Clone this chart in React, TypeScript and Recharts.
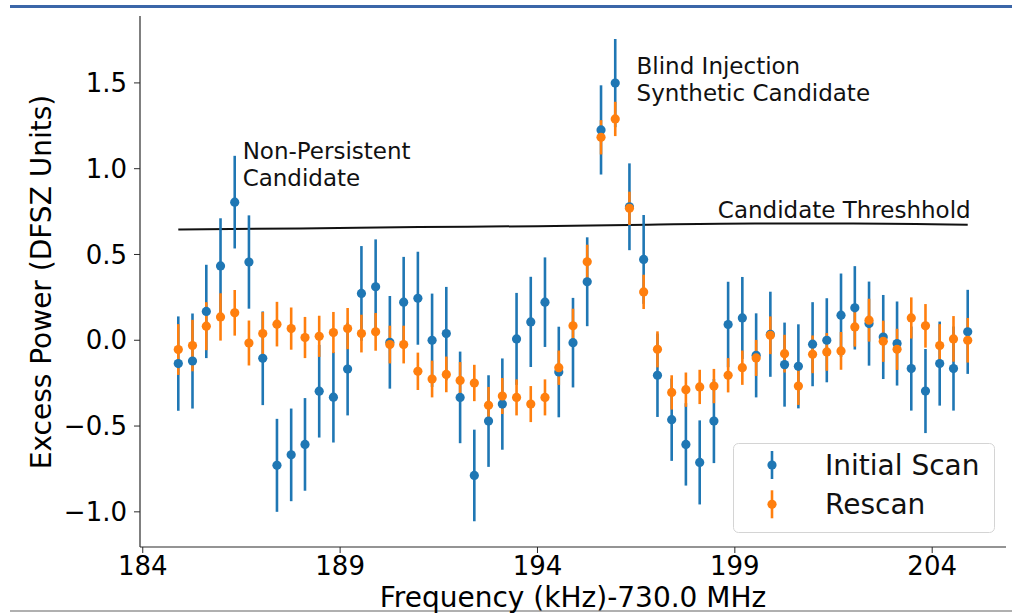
import React from 'react';
import { ComposedChart, Scatter, ErrorBar, Line, XAxis, YAxis, ReferenceDot } from 'recharts';

const FONT = '"DejaVu Sans", "Liberation Sans", sans-serif';
const BLUE = '#1f77b4';
const ORANGE = '#ff7f0e';

const frequencies = [
  184.90, 185.26, 185.61, 185.97, 186.33, 186.69, 187.04, 187.40, 187.76, 188.11,
  188.47, 188.83, 189.19, 189.54, 189.90, 190.26, 190.61, 190.97, 191.33, 191.69,
  192.04, 192.40, 192.76, 193.11, 193.47, 193.83, 194.19, 194.54, 194.90, 195.26,
  195.61, 195.97, 196.33, 196.69, 197.04, 197.40, 197.76, 198.11, 198.47, 198.83,
  199.19, 199.54, 199.90, 200.26, 200.61, 200.97, 201.33, 201.69, 202.04, 202.40,
  202.76, 203.11, 203.47, 203.83, 204.19, 204.54, 204.90,
];

const initialScan = [
  -0.136, -0.121, 0.168, 0.433, 0.805, 0.456, -0.105, -0.729, -0.668, -0.607,
  -0.297, -0.332, -0.168, 0.273, 0.312, -0.012, 0.222, 0.245, 0.0, 0.039,
  -0.333, -0.788, -0.471, -0.372, 0.008, 0.107, 0.222, -0.185, -0.014, 0.341,
  1.226, 1.499, 0.778, 0.471, -0.204, -0.463, -0.607, -0.712, -0.471, 0.092,
  0.130, -0.088, 0.035, -0.142, -0.152, -0.023, 0.0, 0.146, 0.189, 0.097,
  0.019, -0.019, -0.165, -0.296, -0.136, -0.165, 0.049,
];

const initialScanErr = [
  0.275, 0.277, 0.272, 0.278, 0.270, 0.272, 0.273, 0.271, 0.270, 0.270,
  0.270, 0.264, 0.270, 0.276, 0.276, 0.270, 0.264, 0.271, 0.272, 0.272,
  0.267, 0.267, 0.267, 0.266, 0.268, 0.263, 0.261, 0.264, 0.261, 0.259,
  0.260, 0.257, 0.253, 0.259, 0.243, 0.240, 0.240, 0.245, 0.245, 0.249,
  0.239, 0.245, 0.248, 0.245, 0.245, 0.245, 0.245, 0.243, 0.243, 0.245,
  0.245, 0.245, 0.245, 0.245, 0.245, 0.245, 0.245,
];

const rescan = [
  -0.054, -0.031, 0.082, 0.136, 0.160, -0.016, 0.039, 0.094, 0.068, 0.016,
  0.023, 0.045, 0.068, 0.039, 0.049, -0.025, -0.025, -0.181, -0.226, -0.199,
  -0.234, -0.249, -0.379, -0.325, -0.333, -0.372, -0.333, -0.160, 0.084, 0.457,
  1.183, 1.290, 0.769, 0.282, -0.053, -0.304, -0.288, -0.272, -0.267, -0.204,
  -0.160, -0.103, 0.029, -0.078, -0.267, -0.082, -0.068, -0.062, 0.078, 0.117,
  -0.006, -0.053, 0.130, 0.084, -0.031, 0.008, 0.0,
];

const rescanErr = [
  0.148, 0.150, 0.140, 0.138, 0.133, 0.131, 0.125, 0.130, 0.123, 0.120,
  0.120, 0.120, 0.120, 0.110, 0.110, 0.110, 0.110, 0.109, 0.107, 0.104,
  0.107, 0.106, 0.107, 0.105, 0.105, 0.105, 0.105, 0.100, 0.100, 0.100,
  0.100, 0.100, 0.097, 0.100, 0.105, 0.100, 0.100, 0.100, 0.100, 0.100,
  0.100, 0.105, 0.110, 0.110, 0.110, 0.110, 0.110, 0.110, 0.115, 0.125,
  0.120, 0.120, 0.120, 0.127, 0.125, 0.133, 0.130,
];

const thresholdFreqs = [184.90, 188.0, 191.0, 194.0, 196.8, 199.5, 202.0, 204.90];
const thresholdValues = [0.646, 0.652, 0.660, 0.665, 0.674, 0.680, 0.680, 0.673];

const xTicks = [184, 189, 194, 199, 204];
const yTicks = [-1.0, -0.5, 0.0, 0.5, 1.0, 1.5];
const xDomain = [183.93, 205.87];
const yDomain = [-1.205, 1.89];

const annotations = [
  { x: 186.53, y: 1.055, text: 'Non-Persistent', anchor: 'start' },
  { x: 186.53, y: 0.899, text: 'Candidate', anchor: 'start' },
  { x: 196.51, y: 1.552, text: 'Blind Injection', anchor: 'start' },
  { x: 196.51, y: 1.395, text: 'Synthetic Candidate', anchor: 'start' },
  { x: 204.975, y: 0.711, text: 'Candidate Threshhold', anchor: 'end' },
];

const legendItems = [
  { name: 'Initial Scan', color: BLUE },
  { name: 'Rescan', color: ORANGE },
];

const initialData = frequencies.map((x, i) => ({ x, y: initialScan[i], err: initialScanErr[i] }));
const rescanData = frequencies.map((x, i) => ({ x, y: rescan[i], err: rescanErr[i] }));
const thresholdData = thresholdFreqs.map((x, i) => ({ x, y: thresholdValues[i] }));

const fmtY = (v: number) => (v < 0 ? '\u2212' + Math.abs(v).toFixed(1) : v.toFixed(1));

const dotShape = (color: string) => (p: any) =>
  p.cx == null || p.cy == null ? <g /> : <circle cx={p.cx} cy={p.cy} r={4.6} fill={color} />;

const FRAME = '#2a2a2a';

export default function App() {
  return (
    <div style={{ position: 'absolute', left: 0, top: 0, width: 1012, height: 613, background: '#fff', overflow: 'hidden' }}>
      <div style={{ position: 'absolute', left: 10, top: 5, width: 1002, height: 2.5, background: '#3b66a8' }} />
      <div style={{ position: 'absolute', left: 10, top: 610, width: 1002, height: 1.5, background: '#b0b0b0' }} />
      <div style={{ position: 'absolute', left: 0, top: 0 }}>
        <ComposedChart width={1012} height={613} margin={{ top: 16, right: 6, bottom: 0, left: 0 }}>
          <XAxis
            dataKey="x"
            type="number"
            domain={xDomain}
            allowDataOverflow
            ticks={xTicks}
            tickSize={6}
            tickMargin={4}
            height={66}
            axisLine={{ stroke: FRAME, strokeWidth: 1.2 }}
            tickLine={{ stroke: FRAME, strokeWidth: 1 }}
            tick={{ fontSize: 26, fill: '#000', fontFamily: FONT }}
            label={() => (
              <text x={573} y={607} textAnchor="middle" fontSize={28} fontFamily={FONT} fill="#000">
                Frequency (kHz)-730.0 MHz
              </text>
            )}
          />
          <XAxis
            xAxisId="top"
            orientation="top"
            type="number"
            domain={xDomain}
            allowDataOverflow
            height={0}
            tick={false}
            tickLine={false}
            axisLine={{ stroke: FRAME, strokeWidth: 1.2 }}
          />
          <YAxis
            dataKey="y"
            type="number"
            domain={yDomain}
            allowDataOverflow
            ticks={yTicks}
            tickFormatter={fmtY}
            width={140}
            tickSize={6}
            tickMargin={7}
            axisLine={{ stroke: FRAME, strokeWidth: 1.2 }}
            tickLine={{ stroke: FRAME, strokeWidth: 1 }}
            tick={{ fontSize: 26, fill: '#000', fontFamily: FONT }}
            label={() => (
              <text
                x={0}
                y={0}
                transform="translate(51,282) rotate(-90)"
                textAnchor="middle"
                fontSize={28}
                fontFamily={FONT}
                fill="#000"
              >
                Excess Power (DFSZ Units)
              </text>
            )}
          />
          <YAxis
            yAxisId="right"
            orientation="right"
            type="number"
            domain={yDomain}
            allowDataOverflow
            width={0}
            tick={false}
            tickLine={false}
            axisLine={{ stroke: FRAME, strokeWidth: 1.2 }}
          />
          <Line
            data={thresholdData}
            dataKey="y"
            type="monotone"
            stroke="#111"
            strokeWidth={2}
            dot={false}
            activeDot={false}
            isAnimationActive={false}
          />
          <Scatter data={initialData} dataKey="y" fill={BLUE} shape={dotShape(BLUE)} isAnimationActive={false}>
            <ErrorBar dataKey="err" direction="y" width={0} stroke={BLUE} strokeWidth={2.6} isAnimationActive={false} />
          </Scatter>
          <Scatter data={rescanData} dataKey="y" fill={ORANGE} shape={dotShape(ORANGE)} isAnimationActive={false}>
            <ErrorBar dataKey="err" direction="y" width={0} stroke={ORANGE} strokeWidth={2.6} isAnimationActive={false} />
          </Scatter>
          {annotations.map((a, i) => (
            <ReferenceDot
              key={i}
              x={a.x}
              y={a.y}
              r={0}
              ifOverflow="visible"
              shape={(p: any) => (
                <text
                  x={p.cx}
                  y={p.cy}
                  textAnchor={a.anchor as any}
                  fontSize={23}
                  fontFamily={FONT}
                  fill="#111"
                >
                  {a.text}
                </text>
              )}
            />
          ))}
        </ComposedChart>
      </div>
      <svg
        width={262}
        height={90}
        style={{ position: 'absolute', left: 733, top: 443 }}
      >
        <rect x={0.5} y={0.5} width={261} height={89} rx={5} ry={5} fill="#fff" fillOpacity={0.85} stroke="#d4d4d4" strokeWidth={1} />
        {legendItems.map((it, i) => {
          const cy = 22 + i * 39.3;
          return (
            <g key={it.name}>
              <line x1={39} x2={39} y1={cy - 14} y2={cy + 14} stroke={it.color} strokeWidth={2.6} />
              <circle cx={39} cy={cy} r={4.6} fill={it.color} />
              <text x={92} y={cy + 9.5} fontSize={28} fontFamily={FONT} fill="#111">
                {it.name}
              </text>
            </g>
          );
        })}
      </svg>
    </div>
  );
}
